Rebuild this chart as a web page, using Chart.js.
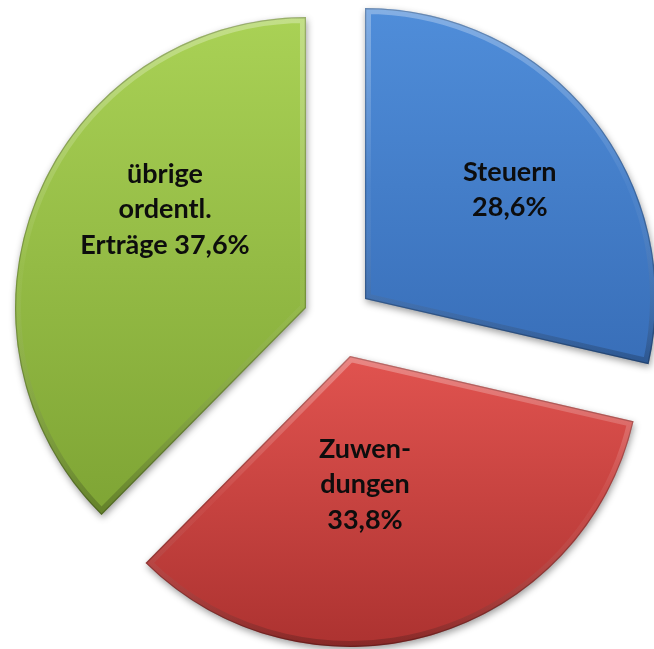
<!DOCTYPE html>
<html><head><meta charset="utf-8">
<script src="https://cdn.jsdelivr.net/npm/chart.js@4.4.1/dist/chart.umd.min.js"></script>
<style>html,body{margin:0;padding:0;background:#fff;overflow:hidden}</style>
</head><body>
<canvas id="c" width="654" height="649"></canvas>
<script>
// ---- data ----
const categories = ['Steuern', 'Zuwendungen', 'übrige ordentl. Erträge'];
const shares = [28.6, 33.8, 37.6];
const labelLines = [['Steuern', '{v}'], ['Zuwen-', 'dungen', '{v}'], ['übrige', 'ordentl.', 'Erträge {v}']];

// ---- styles ----
const sliceGradients = [
  {y0: 0,   y1: 370, c0: 'rgb(80,142,218)', c1: 'rgb(56,110,184)'},
  {y0: 350, y1: 649, c0: 'rgb(226,84,80)',  c1: 'rgb(172,50,48)'},
  {y0: 10,  y1: 520, c0: 'rgb(170,210,86)', c1: 'rgb(126,164,52)'}
];
const explode = [{dx: 26, dy: -20}, {dx: 11, dy: 37}, {dx: -33, dy: -11}];
const labelPlace = [{turn: 1.3, frac: 0.625}, {turn: 9.5, frac: 0.441}, {turn: 12.9, frac: 0.593}];
const FONT_SIZE = 27, LINE_H = 35.5, CAP_H = 0.72 * FONT_SIZE;

const canvas = document.getElementById('c');
const c2d = canvas.getContext('2d');
const fills = sliceGradients.map(s => {
  const g = c2d.createLinearGradient(0, s.y0, 0, s.y1);
  g.addColorStop(0, s.c0); g.addColorStop(1, s.c1);
  return g;
});

const fmt = v => v.toFixed(1).replace('.', ',') + '%';

const piePlugin = {
  id: 'pieStyle',
  afterDatasetUpdate(chart, args) {
    const meta = chart.getDatasetMeta(args.index);
    meta.data.forEach((arc, i) => { arc.x += explode[i].dx; arc.y += explode[i].dy; });
  },
  beforeDatasetsDraw(chart) {
    const ctx = chart.ctx;
    ctx.save();
    ctx.shadowColor = 'rgba(0,0,0,0.38)';
    ctx.shadowBlur = 7;
    ctx.shadowOffsetX = 1;
    ctx.shadowOffsetY = 3;
  },
  afterDatasetsDraw(chart) {
    const ctx = chart.ctx;
    ctx.restore();
    const meta = chart.getDatasetMeta(0);
    meta.data.forEach((arc, i) => {
      const {x, y, startAngle: s, endAngle: e, outerRadius: r} = arc;
      const ys = [y, y + r * Math.sin(s), y + r * Math.sin(e)];
      [-Math.PI / 2, Math.PI / 2, 3 * Math.PI / 2].forEach(a => { if (a >= s && a <= e) ys.push(y + r * Math.sin(a)); });
      const top = Math.min(...ys), bot = Math.max(...ys);
      ctx.save();
      ctx.beginPath(); ctx.moveTo(x, y); ctx.arc(x, y, r, s, e); ctx.closePath();
      ctx.clip();
      const g = ctx.createLinearGradient(0, top, 0, bot);
      g.addColorStop(0, 'rgba(255,255,255,0.30)');
      g.addColorStop(0.5, 'rgba(255,255,255,0.04)');
      g.addColorStop(1, 'rgba(0,0,0,0.22)');
      ctx.lineJoin = 'round';
      ctx.lineWidth = 12; ctx.strokeStyle = g; ctx.stroke();
      ctx.lineWidth = 2.5; ctx.strokeStyle = 'rgba(0,0,0,0.22)'; ctx.stroke();
      ctx.restore();

      // label
      const mid = (s + e) / 2 + labelPlace[i].turn * Math.PI / 180;
      const rr = r * labelPlace[i].frac;
      const cx = x + Math.cos(mid) * rr, cy = y + Math.sin(mid) * rr;
      const lines = labelLines[i].map(t => t.replace('{v}', fmt(shares[i])));
      ctx.save();
      ctx.font = 'bold ' + FONT_SIZE + 'px Lato, "Open Sans", sans-serif';
      ctx.fillStyle = '#0d0d0d';
      ctx.textAlign = 'center';
      ctx.textBaseline = 'alphabetic';
      const firstBase = cy - (lines.length - 1) * LINE_H / 2 + CAP_H / 2;
      lines.forEach((t, k) => ctx.fillText(t, cx, firstBase + k * LINE_H));
      ctx.restore();
    });
  }
};

new Chart(canvas, {
  type: 'pie',
  data: {
    labels: categories,
    datasets: [{
      data: shares,
      backgroundColor: c => fills[c.dataIndex],
      borderWidth: 0,
      radius: 291,
      clip: false
    }]
  },
  options: {
    responsive: false,
    animation: false,
    events: [],
    layout: {padding: {left: 24, right: 0, top: 0, bottom: 11}},
    plugins: {legend: {display: false}, tooltip: {enabled: false}}
  },
  plugins: [piePlugin]
});
</script>
</body></html>
